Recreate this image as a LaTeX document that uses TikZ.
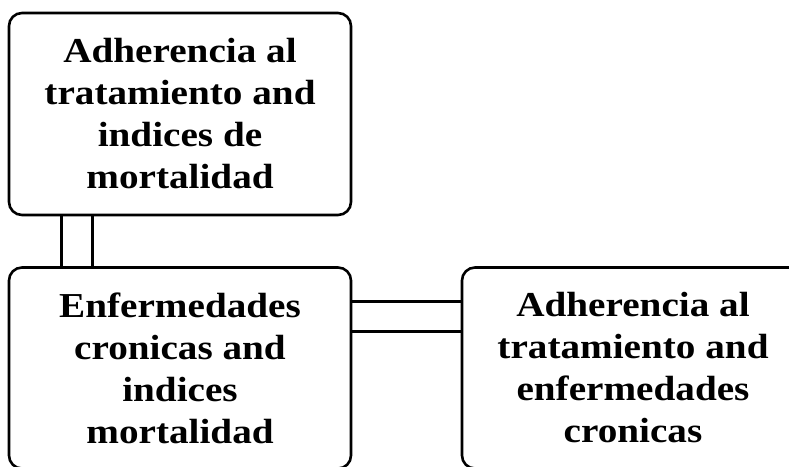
\documentclass[tikz,border=0pt]{standalone}
\usepackage{fontspec}
\setmainfont{Liberation Serif}[FakeStretch=1.12]
\begin{document}
\begin{tikzpicture}[x=1pt,y=1pt,
  box/.style={draw=black, line width=2.6pt, rounded corners=13pt, fill=white,
    minimum width=342pt, minimum height=202pt, align=center, inner sep=0pt,
    font=\fontsize{35}{42}\selectfont\bfseries},
  link/.style={draw=black, line width=2.6pt}]
\useasboundingbox (0,0) rectangle (789,-466);
\clip (0,0) rectangle (789,-466);
\node[box] (top) at (180,-114) {Adherencia al\\tratamiento and\\indices de\\mortalidad};
\node[box, minimum height=201pt] (bl) at (180,-368) {Enfermedades\\cronicas and\\indices\\mortalidad};
\node[box, minimum height=201pt] (rt) at (633,-368) {Adherencia al\\tratamiento and\\enfermedades\\cronicas};
\draw[link] ([xshift=54pt]top.south west) -- ([xshift=54pt]bl.north west);
\draw[link] ([xshift=85pt]top.south west) -- ([xshift=85pt]bl.north west);
\draw[link] ([yshift=-35pt]bl.north east) -- ([yshift=-35pt]rt.north west);
\draw[link] ([yshift=-65pt]bl.north east) -- ([yshift=-65pt]rt.north west);
\end{tikzpicture}
\end{document}
